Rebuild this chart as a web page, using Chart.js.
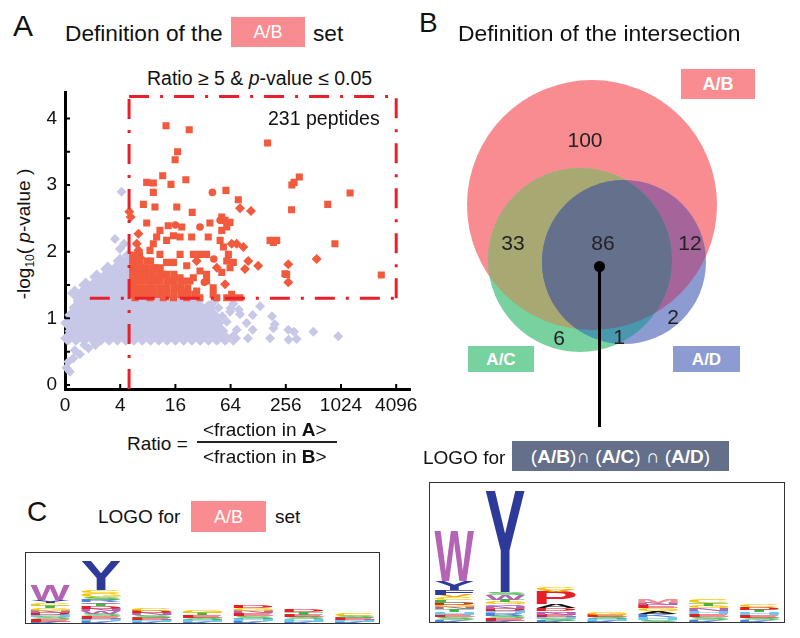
<!DOCTYPE html>
<html>
<head>
<meta charset="utf-8">
<script src="https://cdn.jsdelivr.net/npm/chart.js@4.4.1/dist/chart.umd.min.js"></script>
<style>
body { margin: 0; width: 800px; height: 638px; background: #fff; position: relative; overflow: hidden;
       font-family: "Liberation Sans", Arial, sans-serif; color: #111; }
.t { position: absolute; white-space: nowrap; line-height: 1; }
.box { position: absolute; color: #fff; display: flex; align-items: center; justify-content: center; line-height: 1; white-space: nowrap; }
canvas { position: absolute; }
.logoFrame { position: absolute; border: 1.5px solid #333; box-sizing: border-box; }
</style>
</head>
<body>

<!-- panel A -->
<div class="t" style="left:13px;top:11px;font-size:30px">A</div>
<div class="t" style="left:65px;top:22px;font-size:22.7px">Definition of the</div>
<div class="box" style="left:231px;top:17px;width:74px;height:30px;background:#f88c91;font-size:18px">A/B</div>
<div class="t" style="left:313px;top:22px;font-size:22.7px">set</div>
<div class="t" style="left:147px;top:69px;font-size:19.5px">Ratio ≥ 5 &amp; <i>p</i>-value ≤ 0.05</div>
<div class="t" style="left:25px;top:234px;font-size:19px;transform:translate(-50%,-50%) rotate(-90deg)">-log<sub style="font-size:12px">10</sub>( <i>p</i>-value )</div>
<canvas id="scatter" width="430" height="359" style="left:0;top:73px"></canvas>
<div class="t" style="left:268px;top:109px;font-size:19.5px">231 peptides</div>
<div class="t" style="left:127px;top:434px;font-size:19px">Ratio =</div>
<div class="t" style="left:203px;top:420px;font-size:19px">&lt;fraction in <b>A</b>&gt;</div>
<div style="position:absolute;left:197px;top:441px;width:140px;height:1.5px;background:#222"></div>
<div class="t" style="left:203px;top:447px;font-size:19px">&lt;fraction in <b>B</b>&gt;</div>

<!-- panel B -->
<div class="t" style="left:419px;top:9px;font-size:28px">B</div>
<div class="t" style="left:458px;top:22px;font-size:22.9px">Definition of the intersection</div>
<canvas id="venn" width="380" height="320" style="left:420px;top:50px"></canvas>
<div class="box" style="left:681px;top:69px;width:74px;height:30px;background:#f88c91;font-size:18px;font-weight:bold">A/B</div>
<div class="box" style="left:468px;top:346px;width:66px;height:26px;background:#78d2a0;font-size:17px;font-weight:bold">A/C</div>
<div class="box" style="left:673px;top:346px;width:67px;height:26px;background:#8c9bd2;font-size:17px;font-weight:bold">A/D</div>
<div style="position:absolute;left:597.5px;top:267px;width:3px;height:160px;background:#000"></div>
<div style="position:absolute;left:593.5px;top:261px;width:11px;height:11px;border-radius:50%;background:#000"></div>
<div class="t" style="left:423px;top:448px;font-size:19px">LOGO for</div>
<div class="box" style="left:512px;top:441px;width:217px;height:30px;background:#647089;font-size:19px">(<b>A/B</b>)∩&nbsp;(<b>A/C</b>)&nbsp;∩&nbsp;(<b>A/D</b>)</div>
<canvas id="logoRight" width="356" height="141" style="left:429px;top:482px"></canvas>
<div class="logoFrame" style="left:429px;top:482px;width:356px;height:141px"></div>

<!-- panel C -->
<div class="t" style="left:27px;top:498px;font-size:28px">C</div>
<div class="t" style="left:98px;top:507px;font-size:19px">LOGO for</div>
<div class="box" style="left:191px;top:501px;width:75px;height:31px;background:#f88c91;font-size:18px">A/B</div>
<div class="t" style="left:275px;top:507px;font-size:19px">set</div>
<canvas id="logoLeft" width="355" height="72" style="left:25px;top:552px"></canvas>
<div class="logoFrame" style="left:25px;top:552px;width:355px;height:72px"></div>

<script>
// ---- panel A data: x = log2(ratio), y = -log10(p-value) ----
const xTickPos = [0, 2, 4, 6, 8, 10, 12];
const xTickLabels = ['0', '4', '16', '64', '256', '1024', '4096'];
const yTickPos = [0, 0.5, 1, 1.5, 2, 2.5, 3, 3.5, 4];
const ratioCut = 5;
const pCut = 0.05;

// dense cloud of non-selected peptides
const otherCore = [
  [0.1,0.7],[0.4,0.7],[0.7,0.7],[1.0,0.7],[1.3,0.7],[1.6,0.7],[1.9,0.7],[2.2,0.7],[2.5,0.7],[2.8,0.7],[3.1,0.7],
  [3.4,0.7],[3.7,0.7],[4.0,0.7],[4.3,0.7],[4.6,0.7],[4.9,0.7],[5.2,0.7],[5.5,0.7],[5.8,0.7],[6.1,0.7],
  [0.25,0.81],[0.55,0.81],[0.85,0.81],[1.15,0.81],[1.45,0.81],[1.75,0.81],[2.05,0.81],[2.35,0.81],[2.65,0.81],
  [2.95,0.81],[3.25,0.81],[3.55,0.81],[3.85,0.81],[4.15,0.81],[4.45,0.81],[4.75,0.81],[5.05,0.81],[5.35,0.81],[5.65,0.81],
  [0.1,0.93],[0.4,0.93],[0.7,0.93],[1.0,0.93],[1.3,0.93],[1.6,0.93],[1.9,0.93],[2.2,0.93],[2.5,0.93],[2.8,0.93],
  [3.1,0.93],[3.4,0.93],[3.7,0.93],[4.0,0.93],[4.3,0.93],[4.6,0.93],[4.9,0.93],[5.2,0.93],[5.5,0.93],
  [0.25,1.05],[0.55,1.05],[0.85,1.05],[1.15,1.05],[1.45,1.05],[1.75,1.05],[2.05,1.05],[2.35,1.05],[2.65,1.05],
  [2.95,1.05],[3.25,1.05],[3.55,1.05],[3.85,1.05],[4.15,1.05],[4.45,1.05],[4.75,1.05],[5.05,1.05],[5.35,1.05],
  [0.4,1.16],[0.7,1.16],[1.0,1.16],[1.3,1.16],[1.6,1.16],[1.9,1.16],[2.2,1.16],[2.5,1.16],[2.8,1.16],[3.1,1.16],
  [3.4,1.16],[3.7,1.16],[4.0,1.16],[4.3,1.16],[4.6,1.16],[4.9,1.16],[5.2,1.16],
  [0.55,1.26],[0.85,1.26],[1.15,1.26],[1.45,1.26],[1.75,1.26],[2.05,1.26],[2.35,1.26],[2.65,1.26],[2.95,1.26],
  [3.25,1.26],[3.55,1.26],[3.85,1.26],[4.15,1.26],[4.45,1.26],[4.75,1.26],
  [0.35,1.38],[0.65,1.38],[0.95,1.38],[1.25,1.38],[1.55,1.38],[1.85,1.38],[2.15,1.38],
  [0.75,1.5],[1.05,1.5],[1.35,1.5],[1.65,1.5],[1.95,1.5],[2.2,1.5],
  [1.15,1.62],[1.45,1.62],[1.75,1.62],[2.05,1.62],[2.3,1.62],
  [1.55,1.74],[1.85,1.74],[2.15,1.74],[2.0,1.86],[2.3,1.86]
];
// scattered non-selected peptides around the cloud
const otherSparse = [
  [1.81,2.19],[2.14,2.12],[1.99,2.04],[2.05,2.9],[2.25,1.95],
  [0.05,0.26],[0.18,0.2],[0.12,0.35],[0.3,0.4],[0.54,0.46],[0.85,0.55],[1.1,0.6],[0.35,0.52],[0.7,0.6],
  [6.63,0.7],[7.43,0.7],[8.09,0.83],[8.39,0.69],[9.0,0.8],[9.9,0.73],[7.5,1.03],[7.55,0.85],[7.07,1.18],
  [6.34,1.06],[6.58,0.93],[5.98,1.1],[5.56,1.16],[5.86,0.95],[6.22,0.83],[7.6,0.91],[6.8,0.83],[8.1,0.68],
  [8.3,0.8],[6.0,1.15],[5.7,1.03],[6.3,1.13],[5.4,1.25],[6.1,1.22],[6.8,1.05]
];

const abSquares = [
  [3.66,3.89],[4.5,3.83],[7.34,3.63],[4.08,3.5],[3.99,3.38],[3.54,3.14],[4.38,3.08],[2.96,3.04],[3.2,3.03],
  [3.84,3.01],[5.83,2.92],[3.2,2.89],[8.49,3.12],[8.3,3.04],[8.22,3.0],[10.33,2.88],[9.52,2.71],[6.28,2.78],
  [2.84,2.71],[3.26,2.67],[4.05,2.67],[8.21,2.63],[4.61,2.59],[2.96,2.43],[5.68,2.52],[5.8,2.47],[5.98,2.44],
  [5.25,2.43],[3.74,2.39],[4.23,2.37],[3.44,2.32],[7.43,2.17],[7.55,2.14],[7.67,2.17],[9.78,2.12],[11.46,1.65],
  [8.03,1.66],[7.97,1.67],
  [4.89,1.96],[5.13,1.96],[4.41,1.79],[4.65,1.61],[4.17,1.61],[5.13,1.56],[5.37,1.46],[5.68,1.69],[4.77,1.41],
  [4.41,1.41],[5.5,1.31],[5.86,1.31],[6.1,1.31],[6.34,1.31],[6.04,1.36],[5.37,1.36],[5.74,2.07],[5.92,1.96],
  [6.1,1.84],[5.62,2.17],[5.19,2.22],[4.59,2.22],[4.17,2.22],[3.93,2.24],[3.68,2.17],[3.32,2.22],[3.2,2.12],
  [3.44,1.96],[3.08,2.02],[4.17,1.96],[3.68,1.84],[3.93,1.84],[4.65,1.96],[5.86,1.86],[5.98,1.76],[5.68,2.32],
  [5.86,2.37],[4.89,1.71],[4.53,1.56],[4.05,1.46],[3.8,1.56],[3.56,1.66],[3.26,1.76],[2.96,1.86],[3.32,1.56],
  [3.08,1.46],[2.72,1.56],[2.48,1.46],[2.72,1.36],[2.54,1.31],[3.08,1.31],[3.44,1.36],[3.93,1.31],[4.41,1.31],
  [4.89,1.31],[3.56,1.31],[2.84,1.76],[4.29,1.56],[3.68,1.46],[5.13,1.66],
  [2.45,1.36],[2.7,1.36],[2.95,1.36],[3.2,1.36],[3.45,1.36],[3.7,1.36],[3.95,1.36],[4.2,1.36],[4.45,1.36],[4.7,1.36],
  [2.45,1.46],[2.7,1.46],[2.95,1.46],[3.2,1.46],[3.45,1.46],[3.7,1.46],[3.95,1.46],[4.2,1.46],[4.45,1.46],
  [2.45,1.56],[2.7,1.56],[2.95,1.56],[3.2,1.56],[3.45,1.56],[3.7,1.56],[3.95,1.56],[4.2,1.56],
  [2.45,1.66],[2.7,1.66],[2.95,1.66],[3.2,1.66],[3.45,1.66],[3.7,1.66],[3.95,1.66],
  [2.45,1.76],[2.7,1.76],[2.95,1.76],[3.2,1.76],[3.45,1.76],[2.45,1.86],[2.7,1.86],[3.1,1.86],[2.45,1.95],[2.7,1.95]
];
const abCircles = [[5.34,2.89],[4.89,2.37],[5.39,1.89],[5.05,1.54],[5.62,2.47],[4.0,2.4],[3.2,1.6]];
const abDiamonds = [
  [2.33,2.6],[2.38,2.52],[2.66,2.27],[2.6,2.12],[2.72,1.91],[2.66,2.02],[2.54,1.66],[2.54,1.84],[2.6,1.76],
  [6.34,2.65],[6.74,2.61],[6.46,2.07],[6.22,2.12],[6.64,1.86],[7.0,1.79],[6.52,1.74],[8.09,1.81],[8.09,1.54],
  [9.12,1.89],[4.77,1.86],[5.5,1.76],[6.04,2.12],[5.8,1.51]
];

// ---- panel B data ----
const vennNames = ['A/B', 'A/C', 'A/D'];
const vennX = [0, -12, 32];
const vennY = [0, -55, -57];
const vennR = [125, 92, 82];
const vennColors = ['#f88c91', '#78d2a0', '#8c9bd2'];
const vennCounts = ['100', '33', '86', '12', '6', '1', '2'];
const vennLabelX = [-7, -79, 11, 98, -33, 27, 81];
const vennLabelY = [65, -38, -38, -38, -133, -132, -112];

// ---- panel C / logo data (bits, bottom to top of each column) ----
const logoPositions = ['1', '2', '3', '4', '5', '6', '7'];
const leftLogoLetters = [
  ['K','E','S','H','D','N','G','T','C','Y','W'],
  ['K','H','E','S','W','N','D','T','Q','R','S','G','C','Y'],
  ['K','H','E','S','N','D','C'],
  ['K','H','S','E','T','G'],
  ['K','H','S','E','N','G','D'],
  ['K','H','S','E','T','D'],
  ['K','H','E','S','C']
];
const leftLogoHeights = [
  [0.12,0.18,0.12,0.12,0.12,0.12,0.18,0.12,0.18,0.18,0.91],
  [0.18,0.12,0.18,0.12,0.18,0.12,0.18,0.12,0.12,0.12,0.18,0.24,0.18,1.75],
  [0.12,0.12,0.12,0.18,0.12,0.12,0.12],
  [0.12,0.12,0.12,0.18,0.12,0.18],
  [0.18,0.12,0.18,0.18,0.12,0.18,0.18],
  [0.12,0.18,0.12,0.12,0.18,0.18],
  [0.12,0.12,0.12,0.12,0.18]
];
const rightLogoLetters = [
  ['K','S','E','H','T','N','G','D','L','C','V','F','Y','W'],
  ['K','E','S','R','H','D','N','Q','G','T','W','S','Y'],
  ['K','S','H','E','N','Q','D','A','P','V','C'],
  ['K','H','S','E','G'],
  ['S','H','K','A','G','E','N','M'],
  ['K','S','E','H','N','G','T','C'],
  ['K','S','E','H','T','D','C']
];
const rightLogoHeights = [
  [0.09,0.09,0.06,0.09,0.09,0.06,0.09,0.06,0.09,0.09,0.06,0.15,0.28,1.54],
  [0.06,0.09,0.06,0.09,0.06,0.06,0.09,0.06,0.09,0.06,0.15,0.09,3.12],
  [0.06,0.06,0.06,0.06,0.06,0.06,0.09,0.12,0.40,0.06,0.09],
  [0.06,0.06,0.06,0.06,0.09],
  [0.09,0.09,0.09,0.09,0.09,0.12,0.06,0.12],
  [0.09,0.09,0.09,0.09,0.09,0.06,0.09,0.12],
  [0.09,0.06,0.09,0.09,0.06,0.09,0.09]
];
const letterColors = {
  W: '#b563b5', Y: '#2e3a9a', F: '#2e3a9a', P: '#e41f26', A: '#111111', G: '#f7c600', C: '#f7c600',
  V: '#f3a300', L: '#3fb54a', S: '#3fb54a', T: '#3fb54a', N: '#b563b5', Q: '#b563b5', D: '#e41f26',
  E: '#e41f26', K: '#4f7fdc', R: '#4f7fdc', H: '#6cc8ec', M: '#f08e8e'
};

const FONT = '"Liberation Sans", Arial, sans-serif';
const toPts = arr => arr.map(p => ({ x: p[0], y: p[1] }));

// ---------- scatter ----------
const cutX = Math.log2(ratioCut);
const cutY = -Math.log10(pCut);
const yMin = -0.06, boxTop = 4.33, boxRight = 12, hLineStart = 0.9;
const red = '#f15a3c';
const lavender = '#c7c7e7';
const dash = { type: 'line', showLine: true, pointRadius: 0, borderColor: '#e8202a', borderWidth: 3,
               borderDash: [20, 11, 3, 11], fill: false, order: 0, clip: false };

const inwardTicks = {
    id: 'inwardTicks',
    afterDraw(chart) {
        const { ctx, chartArea: a, scales: { x, y } } = chart;
        ctx.save();
        ctx.strokeStyle = '#000';
        ctx.lineWidth = 2;
        ctx.beginPath();
        x.ticks.forEach(t => { const px = x.getPixelForValue(t.value); ctx.moveTo(px, a.bottom); ctx.lineTo(px, a.bottom - 5); });
        y.ticks.forEach(t => { const py = y.getPixelForValue(t.value); ctx.moveTo(a.left, py); ctx.lineTo(a.left + 5, py); });
        ctx.stroke();
        ctx.restore();
    }
};

new Chart(document.getElementById('scatter'), {
    type: 'scatter',
    data: {
        datasets: [
            Object.assign({ data: [{ x: cutX, y: yMin }, { x: cutX, y: boxTop }] }, dash),
            Object.assign({ data: [{ x: cutX, y: boxTop }, { x: boxRight, y: boxTop }] }, dash),
            Object.assign({ data: [{ x: boxRight, y: cutY }, { x: boxRight, y: boxTop }] }, dash),
            Object.assign({ data: [{ x: hLineStart, y: cutY }, { x: boxRight, y: cutY }] }, dash),
            { data: toPts(abCircles), pointStyle: 'circle', pointRadius: 3.8, backgroundColor: red, borderWidth: 0, order: 1 },
            { data: toPts(abSquares), pointStyle: 'rect', pointRadius: 5, backgroundColor: red, borderWidth: 0, order: 2 },
            { data: toPts(abDiamonds), pointStyle: 'rectRot', pointRadius: 5, backgroundColor: red, borderWidth: 0, order: 3 },
            { data: toPts(otherSparse), pointStyle: 'rectRot', pointRadius: 5, backgroundColor: lavender, borderWidth: 0, order: 5, clip: false },
            { data: toPts(otherCore), pointStyle: 'rectRot', pointRadius: 7.5, backgroundColor: lavender, borderWidth: 0, order: 6, clip: false }
        ]
    },
    options: {
        responsive: false,
        animation: false,
        layout: { autoPadding: false, padding: { top: 13, right: 20, left: 0, bottom: 0 } },
        plugins: { legend: { display: false }, tooltip: { enabled: false } },
        scales: {
            x: {
                type: 'linear', min: 0, max: 12.5, z: 1,
                grid: { display: false, drawTicks: false },
                border: { display: true, color: '#000', width: 3 },
                afterBuildTicks: s => { s.ticks = xTickPos.map(v => ({ value: v })); },
                afterFit: s => { s.height = 43; },
                ticks: { color: '#111', font: { size: 19, family: FONT }, padding: 5, maxRotation: 0, autoSkip: false,
                         callback: (v, i) => xTickLabels[i] }
            },
            y: {
                type: 'linear', min: yMin, max: 4.39, z: 1,
                grid: { display: false, drawTicks: false },
                border: { display: true, color: '#000', width: 3 },
                afterBuildTicks: s => { s.ticks = yTickPos.map(v => ({ value: v })); },
                afterFit: s => { s.width = 65; },
                ticks: { color: '#111', font: { size: 19, family: FONT }, padding: 8, autoSkip: false,
                         callback: v => Number.isInteger(v) ? String(v) : '' }
            }
        }
    },
    plugins: [inwardTicks]
});

// ---------- venn ----------
const vennRegions = {
    id: 'vennRegions',
    afterDatasetsDraw(chart) {
        const { ctx, scales: { x, y } } = chart;
        const els = chart.getDatasetMeta(0).data;
        const circle = i => {
            const p = els[i].getProps(['x', 'y'], true);
            ctx.beginPath();
            ctx.arc(p.x, p.y, Math.abs(x.getPixelForValue(vennR[i]) - x.getPixelForValue(0)), 0, Math.PI * 2);
        };
        const fillIn = (idx, color) => {
            ctx.save();
            idx.forEach(i => { circle(i); ctx.clip(); });
            ctx.fillStyle = color;
            ctx.fillRect(0, 0, chart.width, chart.height);
            ctx.restore();
        };
        fillIn([0, 1], '#a8a873');
        fillIn([0, 2], '#a5659a');
        fillIn([1, 2], '#4a98ad');
        fillIn([0, 1, 2], '#64708c');
        ctx.save();
        ctx.fillStyle = '#222';
        ctx.font = '21px ' + FONT;
        ctx.textAlign = 'center';
        ctx.textBaseline = 'middle';
        vennCounts.forEach((c, i) => ctx.fillText(c, x.getPixelForValue(vennLabelX[i]), y.getPixelForValue(vennLabelY[i]) + 1));
        ctx.restore();
    }
};

// scale spans 380 units over the 380 px canvas, so r (px) equals the circle radius in units
new Chart(document.getElementById('venn'), {
    type: 'bubble',
    data: {
        labels: vennNames,
        datasets: [{
            data: vennX.map((v, i) => ({ x: v, y: vennY[i], r: vennR[i] })),
            backgroundColor: vennColors,
            borderWidth: 0,
            clip: false
        }]
    },
    options: {
        responsive: false,
        animation: false,
        layout: { autoPadding: false, padding: 0 },
        plugins: { legend: { display: false }, tooltip: { enabled: false } },
        scales: {
            x: { type: 'linear', display: false, min: -172, max: 208 },
            y: { type: 'linear', display: false, min: -165, max: 155 }
        }
    },
    plugins: [vennRegions]
});

// ---------- logos ----------
const stretchedLetters = {
    id: 'stretchedLetters',
    afterDatasetsDraw(chart) {
        const ctx = chart.ctx;
        ctx.save();
        ctx.font = 'bold 100px ' + FONT;
        ctx.textBaseline = 'alphabetic';
        ctx.textAlign = 'left';
        chart.data.datasets.forEach((ds, i) => {
            chart.getDatasetMeta(i).data.forEach((el, j) => {
                const letter = ds.letters[j];
                if (!letter) return;
                const { x, y, base, width } = el.getProps(['x', 'y', 'base', 'width'], true);
                const h = Math.abs(base - y);
                if (h < 0.3) return;
                const m = ctx.measureText(letter);
                const gw = m.actualBoundingBoxLeft + m.actualBoundingBoxRight;
                const gh = m.actualBoundingBoxAscent + m.actualBoundingBoxDescent;
                ctx.save();
                ctx.translate(x - width / 2, Math.min(y, base));
                ctx.scale(width / gw, h / gh);
                ctx.fillStyle = letterColors[letter] || '#888';
                ctx.fillText(letter, m.actualBoundingBoxLeft, m.actualBoundingBoxAscent);
                ctx.restore();
            });
        });
        ctx.restore();
    }
};

function drawLogo(id, letters, heights) {
    const layers = Math.max(...heights.map(h => h.length));
    const datasets = [];
    for (let k = 0; k < layers; k++) {
        datasets.push({
            data: logoPositions.map((_, p) => heights[p][k] || 0),
            letters: logoPositions.map((_, p) => letters[p][k] || ''),
            backgroundColor: 'rgba(0,0,0,0)',
            borderWidth: 0,
            barPercentage: 0.78,
            categoryPercentage: 1
        });
    }
    new Chart(document.getElementById(id), {
        type: 'bar',
        data: { labels: logoPositions, datasets: datasets },
        options: {
            responsive: false,
            animation: false,
            layout: { padding: 0 },
            plugins: { legend: { display: false }, tooltip: { enabled: false } },
            scales: {
                x: { stacked: true, display: false },
                y: { stacked: true, display: false, min: 0, max: 4.35 }
            }
        },
        plugins: [stretchedLetters]
    });
}

drawLogo('logoLeft', leftLogoLetters, leftLogoHeights);
drawLogo('logoRight', rightLogoLetters, rightLogoHeights);
</script>
</body>
</html>
